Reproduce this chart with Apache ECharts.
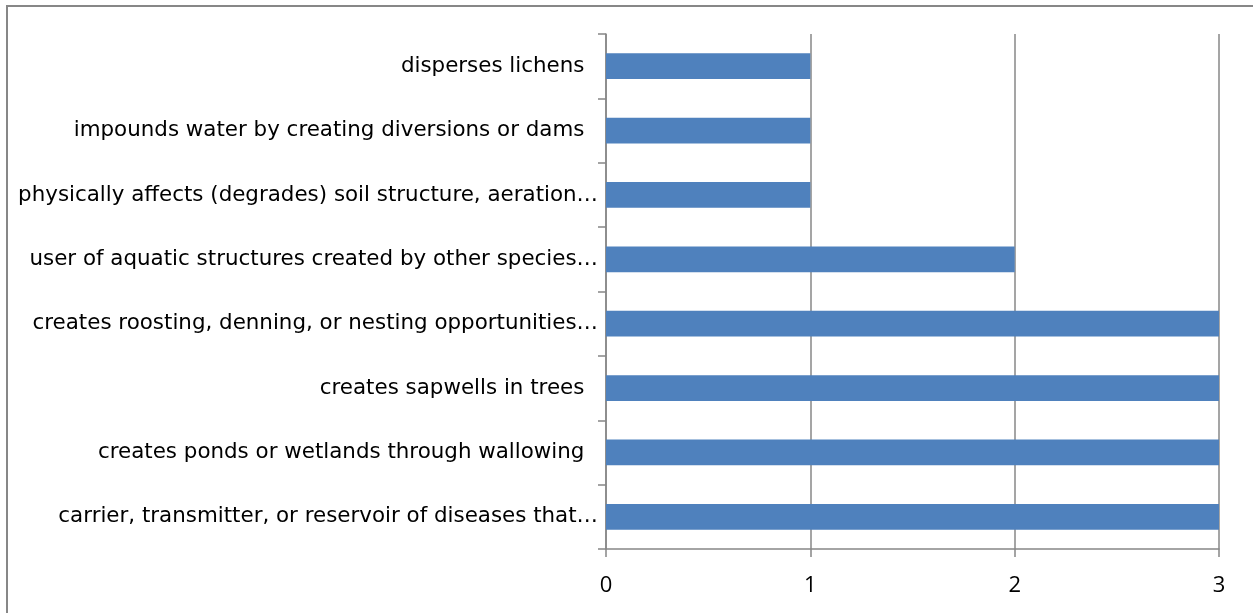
<!DOCTYPE html>
<html>
<head>
<meta charset="utf-8">
<script src="https://cdn.jsdelivr.net/npm/echarts@6/dist/echarts.min.js"></script>
<style>
  html, body { margin: 0; padding: 0; background: #fff; }
  #chart { width: 1253px; height: 613px; }
</style>
</head>
<body>
<div id="chart"></div>
<script>
// Ecological roles, listed bottom to top as the category axis draws them
const categories = [
  'carrier, transmitter, or reservoir of diseases that\u2026',
  'creates ponds or wetlands through wallowing  ',
  'creates sapwells in trees  ',
  'creates roosting, denning, or nesting opportunities\u2026',
  'user of aquatic structures created by other species\u2026',
  'physically affects (degrades) soil structure, aeration\u2026',
  'impounds water by creating diversions or dams  ',
  'disperses lichens  '
];
const counts = [3, 3, 3, 3, 2, 1, 1, 1];
const xTicks = [0, 1, 2, 3];

const axisGray = '#878787';
const chart = echarts.init(document.getElementById('chart'), null, { renderer: 'canvas' });

chart.setOption({
  animation: false,
  backgroundColor: '#ffffff',
  graphic: [{
    type: 'rect',
    shape: { x: 7, y: 6, width: 1400, height: 800 },
    style: { fill: 'none', stroke: axisGray, lineWidth: 2 },
    silent: true
  }],
  grid: { left: 606, right: 34, top: 34, bottom: 64, containLabel: false },
  xAxis: {
    type: 'value',
    min: xTicks[0],
    max: xTicks[xTicks.length - 1],
    interval: 1,
    axisLine: { show: true, lineStyle: { color: axisGray, width: 1.5 } },
    axisTick: { show: true, length: 8, lineStyle: { color: axisGray, width: 1.5 } },
    splitLine: { show: true, lineStyle: { color: axisGray, width: 1.5 } },
    axisLabel: {
      color: '#000',
      fontFamily: 'Open Sans',
      fontSize: 22,
      margin: 26
    }
  },
  yAxis: {
    type: 'category',
    data: categories,
    axisLine: { show: true, lineStyle: { color: axisGray, width: 1.5 } },
    axisTick: { show: true, length: 8, alignWithLabel: false, lineStyle: { color: axisGray, width: 1.5 } },
    splitLine: { show: false },
    axisLabel: {
      color: '#000',
      fontFamily: 'DejaVu Sans',
      fontSize: 21.4,
      margin: 8,
      interval: 0
    }
  },
  series: [{
    type: 'bar',
    data: counts,
    barWidth: '40%',
    itemStyle: { color: '#4F81BD' }
  }]
});
</script>
</body>
</html>
